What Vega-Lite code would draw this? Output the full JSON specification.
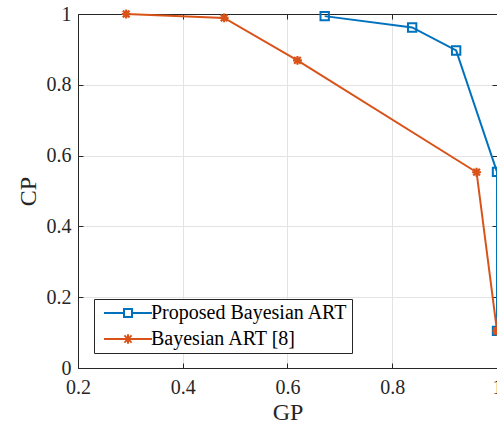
{
  "$schema": "https://vega.github.io/schema/vega-lite/v6.json",
  "width": 419,
  "height": 354,
  "autosize": {"type": "none"},
  "padding": {"left": 78, "top": 14, "right": 0, "bottom": 64},
  "background": "white",
  "config": {
    "font": "Liberation Serif",
    "view": {"stroke": null},
    "axis": {
      "labelFont": "Liberation Serif",
      "labelFontSize": 20,
      "labelColor": "#262626",
      "titleFont": "Liberation Serif",
      "titleFontSize": 24,
      "titleFontWeight": "normal",
      "titleColor": "#262626",
      "domainColor": "#262626",
      "domainWidth": 1,
      "tickColor": "#262626",
      "tickSize": -5,
      "tickWidth": 1,
      "gridColor": "#e3e3e3",
      "gridWidth": 1
    }
  },
  "data": {
    "values": [
      {"series": "Proposed Bayesian ART", "i": 1, "GP": 0.671, "CP": 0.994},
      {"series": "Proposed Bayesian ART", "i": 2, "GP": 0.838, "CP": 0.962},
      {"series": "Proposed Bayesian ART", "i": 3, "GP": 0.922, "CP": 0.897},
      {"series": "Proposed Bayesian ART", "i": 4, "GP": 1.0, "CP": 0.554},
      {"series": "Proposed Bayesian ART", "i": 5, "GP": 1.0, "CP": 0.105},
      {"series": "Bayesian ART [8]", "i": 1, "GP": 0.292, "CP": 1.0},
      {"series": "Bayesian ART [8]", "i": 2, "GP": 0.479, "CP": 0.989},
      {"series": "Bayesian ART [8]", "i": 3, "GP": 0.619, "CP": 0.869},
      {"series": "Bayesian ART [8]", "i": 4, "GP": 0.961, "CP": 0.553},
      {"series": "Bayesian ART [8]", "i": 5, "GP": 1.0, "CP": 0.105}
    ]
  },
  "resolve": {"axis": {"x": "independent", "y": "independent"}},
  "layer": [
    {
      "mark": {"type": "line", "strokeWidth": 2},
      "encoding": {
        "x": {
          "field": "GP", "type": "quantitative", "title": "GP",
          "scale": {"domain": [0.2, 1], "nice": false, "zero": false},
          "axis": {"values": [0.2, 0.4, 0.6, 0.8, 1], "format": "~g", "labelFont": "Liberation Serif", "labelFontSize": 20, "labelPadding": 14, "titlePadding": 3, "labelFlush": false, "grid": true}
        },
        "y": {
          "field": "CP", "type": "quantitative", "title": "CP",
          "scale": {"domain": [0, 1], "nice": false, "zero": false},
          "axis": {"values": [0, 0.2, 0.4, 0.6, 0.8, 1], "format": "~g", "labelFont": "Liberation Serif", "labelFontSize": 20, "labelPadding": 12, "titlePadding": 6, "labelFlush": false, "grid": true}
        },
        "color": {
          "field": "series", "type": "nominal",
          "scale": {"domain": ["Proposed Bayesian ART", "Bayesian ART [8]"], "range": ["#0072BD", "#D95319"]},
          "legend": {
            "orient": "none", "legendX": 16, "legendY": 285, "title": null,
            "fillColor": "white", "strokeColor": "#262626", "padding": 4,
            "labelFont": "Liberation Serif", "labelFontSize": 20, "labelColor": "#000000", "labelLimit": 400,
            "symbolSize": 64, "symbolStrokeWidth": 2, "labelOffset": 33, "rowPadding": 6,
            "encode": {
              "symbols": {
                "update": {
                  "shape": {"signal": "datum.value === 'Proposed Bayesian ART' ? 'M-1,0H4M6,0H11M4,-1H6V1H4Z' : 'M-1,0H11M5,-1.2V1.2M4.1,-0.9L5.9,0.9M4.1,0.9L5.9,-0.9'"},
                  "fill": {"value": "white"},
                  "fillOpacity": {"value": 0}
                }
              }
            }
          }
        },
        "order": {"field": "i", "type": "quantitative"}
      }
    },
    {
      "transform": [{"filter": "datum.series === 'Proposed Bayesian ART'"}],
      "mark": {"type": "point", "shape": "square", "filled": false, "strokeWidth": 2, "size": 70, "opacity": 1, "color": "#0072BD"},
      "encoding": {
        "x": {
          "field": "GP", "type": "quantitative",
          "axis": {"orient": "top", "values": [0.2, 0.4, 0.6, 0.8, 1], "labels": false, "title": null, "grid": false}
        },
        "y": {
          "field": "CP", "type": "quantitative",
          "axis": {"orient": "right", "values": [0, 0.2, 0.4, 0.6, 0.8, 1], "labels": false, "title": null, "grid": false}
        }
      }
    },
    {
      "transform": [{"filter": "datum.series === 'Bayesian ART [8]'"}],
      "mark": {"type": "point", "shape": "M-1,0H1M0,-1V1M-0.75,-0.75L0.75,0.75M-0.75,0.75L0.75,-0.75", "filled": false, "strokeWidth": 2.2, "size": 80, "opacity": 1, "color": "#D95319"},
      "encoding": {
        "x": {"field": "GP", "type": "quantitative", "axis": null},
        "y": {"field": "CP", "type": "quantitative", "axis": null}
      }
    }
  ]
}
